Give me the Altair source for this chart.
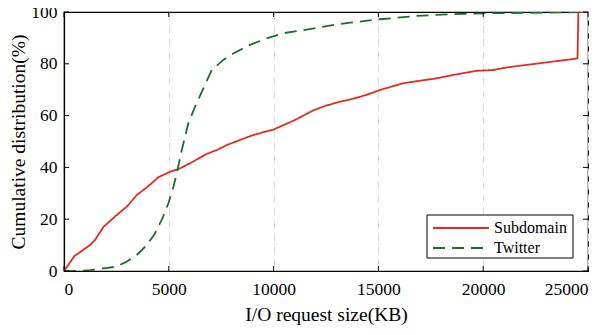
import altair as alt
import pandas as pd

sub_x = [0, 500, 1240, 1480, 1880, 2430, 2990, 3470, 3950, 4180, 4500, 5060, 5530, 6010, 6810, 7290, 7760, 8400, 9030, 9990,
         10940, 11260, 11890, 12450, 13170, 13650, 14440, 15080, 16190, 17780, 18570, 19690, 20480, 21120, 22390, 23980, 24500, 24540, 25000]
sub_y = [0, 5.8, 10, 12, 17, 21, 24.8, 29.3, 32.3, 33.9, 36.2, 38.3, 39.6, 41.6, 45.2, 46.7, 48.6, 50.6, 52.5, 54.6,
         58.0, 59.3, 62.0, 63.7, 65.4, 66.2, 68.0, 69.9, 72.5, 74.4, 75.7, 77.3, 77.6, 78.6, 79.9, 81.5, 82.1, 100, 100]

tw_x = [0, 600, 1240, 2510, 2990, 3470, 3950, 4340, 4660, 4980, 5220, 5380, 5620, 5930, 6250, 6650, 7050, 7600, 8080, 8870,
        9670, 10460, 11580, 13170, 13650, 15080, 16830, 18570, 20000, 22390, 24950]
tw_y = [0, 0, 0.3, 1.7, 3.6, 6.2, 10, 14.5, 19.7, 26.1, 32.5, 37.7, 46.7, 57, 63.4, 70.5, 77.6, 81.5, 84, 87.3,
        89.8, 91.8, 93.2, 95.4, 95.9, 97.2, 98.5, 99.2, 99.5, 99.7, 100]

series_names = ["Subdomain", "Twitter"]
series_colors = ["#e52a1f", "#1b6e2c"]
series_dashes = [[1, 0], [12, 7]]

x_ticks = [0, 5000, 10000, 15000, 20000, 25000]
y_ticks = [0, 20, 40, 60, 80, 100]

W, H = 524, 259
FONT = "Liberation Serif"
LABEL_SIZE = 17.5
TITLE_SIZE = 19.5

df = pd.concat([
    pd.DataFrame({"x": sub_x, "y": sub_y, "series": "Subdomain", "order": range(len(sub_x))}),
    pd.DataFrame({"x": tw_x, "y": tw_y, "series": "Twitter", "order": range(len(tw_x))}),
])

xscale = alt.Scale(domain=[0, 25000], nice=False, zero=False)
yscale = alt.Scale(domain=[0, 100], nice=False)

x_axis = alt.Axis(values=x_ticks, format="d", grid=True, gridDash=[8, 5], gridColor="#dcdcdc",
                  gridWidth=1, ticks=False, labelPadding=9, titlePadding=8, domainColor="black",
                  labelFont=FONT, titleFont=FONT, labelFontSize=LABEL_SIZE, titleFontSize=TITLE_SIZE,
                  labelColor="black", titleColor="black", titleFontWeight="normal")
y_axis = alt.Axis(values=y_ticks, grid=False, ticks=False, labelPadding=7, titlePadding=2, domainColor="black",
                  labelFont=FONT, titleFont=FONT, labelFontSize=LABEL_SIZE, titleFontSize=TITLE_SIZE,
                  labelColor="black", titleColor="black", titleFontWeight="normal")
X_TITLE = "I/O request size(KB)"
Y_TITLE = "Cumulative distribution(%)"

lines = alt.Chart(df).mark_line(strokeWidth=1.8, clip=True).encode(
    x=alt.X("x:Q", scale=xscale, title=X_TITLE, axis=x_axis),
    y=alt.Y("y:Q", scale=yscale, title=Y_TITLE, axis=y_axis),
    color=alt.Color("series:N", scale=alt.Scale(domain=series_names, range=series_colors), legend=None),
    strokeDash=alt.StrokeDash("series:N", scale=alt.Scale(domain=series_names, range=series_dashes), legend=None),
    order="order:Q",
)

xt = pd.DataFrame({"v": x_ticks})
yt = pd.DataFrame({"v": y_ticks})
tick_len = 5
bottom_ticks = alt.Chart(xt).mark_rule(color="black", strokeWidth=1).encode(
    x=alt.X("v:Q", scale=xscale, title=X_TITLE, axis=x_axis), y=alt.value(H), y2=alt.value(H - tick_len))
top_ticks = alt.Chart(xt).mark_rule(color="black", strokeWidth=1).encode(
    x=alt.X("v:Q", scale=xscale, title=X_TITLE, axis=x_axis), y=alt.value(0), y2=alt.value(tick_len))
left_ticks = alt.Chart(yt).mark_rule(color="black", strokeWidth=1).encode(
    y=alt.Y("v:Q", scale=yscale, title=Y_TITLE, axis=y_axis), x=alt.value(0), x2=alt.value(tick_len))
right_ticks = alt.Chart(yt).mark_rule(color="black", strokeWidth=1).encode(
    y=alt.Y("v:Q", scale=yscale, title=Y_TITLE, axis=y_axis), x=alt.value(W), x2=alt.value(W - tick_len))

# legend (manual)
LX0, LX1, LY0, LY1 = 363, 509, 203, 246
one = pd.DataFrame({"a": [0]})
legend_box = alt.Chart(one).mark_rect(fill="white", stroke="black", strokeWidth=1).encode(
    x=alt.value(LX0), x2=alt.value(LX1), y=alt.value(LY0), y2=alt.value(LY1))
legend_layers = [legend_box]
for i, name in enumerate(series_names):
    yy = 216 + 20 * i
    legend_layers.append(alt.Chart(one).mark_rule(strokeWidth=1.8, color=series_colors[i],
                                                  strokeDash=series_dashes[i]).encode(
        x=alt.value(LX0 + 6), x2=alt.value(LX0 + 62), y=alt.value(yy)))
    legend_layers.append(alt.Chart(one).mark_text(text=name, align="left", baseline="middle",
                                                  font=FONT, fontSize=16, color="black").encode(
        x=alt.value(LX0 + 67), y=alt.value(yy)))

chart = alt.layer(lines, bottom_ticks, top_ticks, left_ticks, right_ticks, *legend_layers).properties(
    width=W, height=H,
    autosize=alt.AutoSizeParams(type="none"),
    padding={"left": 56, "top": 4, "right": 15, "bottom": 56},
).configure(background="white").configure_view(stroke="black", strokeWidth=1.2).configure_axis(
    domainWidth=1.2, labelFont=FONT, titleFont=FONT, labelFontSize=LABEL_SIZE, titleFontSize=TITLE_SIZE,
    labelColor="black", titleColor="black", titleFontWeight="normal",
)

chart.save("out.html", embed_options={"renderer": "svg", "actions": False})
